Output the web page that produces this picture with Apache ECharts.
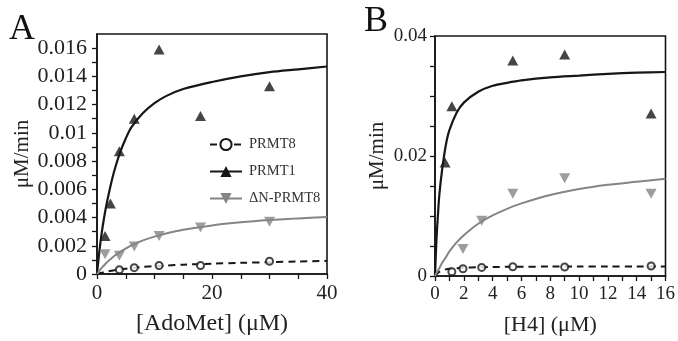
<!DOCTYPE html>
<html><head><meta charset="utf-8">
<script src="https://cdn.jsdelivr.net/npm/echarts@6/dist/echarts.min.js"></script>
<style>html,body{margin:0;padding:0;background:#fff}#c{width:678px;height:341px}</style>
</head><body><div id="c"></div>
<script>
// ---------- Panel A: [AdoMet] ----------
const aPrmt1X = [1.4, 2.33, 3.89, 6.48, 10.8, 18, 30];
const aPrmt1Y = [0.0027, 0.0050, 0.0087, 0.0110, 0.0159, 0.0112, 0.0133];
const aDnX = [1.4, 3.89, 6.48, 10.8, 18, 30];
const aDnY = [0.0014, 0.0013, 0.00195, 0.0027, 0.0033, 0.0037];
const aPrmt8X = [3.89, 6.48, 10.8, 18, 30];
const aPrmt8Y = [0.0003, 0.00045, 0.0006, 0.0006, 0.0009];
// fitted curves
const aFitX = [0, 0.25, 0.5, 0.75, 1, 1.5, 2, 2.5, 3, 4, 5, 6, 8, 10, 12, 15, 20, 25, 30, 35, 40];
const aFitPrmt1 = [0, 0.0010, 0.0019, 0.0027, 0.0034, 0.0046, 0.0056, 0.0065, 0.0073, 0.0086, 0.0096, 0.0104, 0.0114, 0.0121, 0.0126, 0.0131, 0.0136, 0.0140, 0.0143, 0.0145, 0.0147];
const aFitDn = [0, 0.00014, 0.00027, 0.0004, 0.00052, 0.00073, 0.00093, 0.0011, 0.00128, 0.00157, 0.00181, 0.00203, 0.00238, 0.00265, 0.00287, 0.00313, 0.00344, 0.00366, 0.00382, 0.00394, 0.00404];
const aFitPrmt8 = [0, 0.00003, 0.00006, 0.00008, 0.0001, 0.00015, 0.0002, 0.00023, 0.00027, 0.00033, 0.00038, 0.00042, 0.0005, 0.00056, 0.0006, 0.00066, 0.00073, 0.00079, 0.00084, 0.00089, 0.00093];

// ---------- Panel B: [H4] ----------
const bPrmt1X = [0.7, 1.17, 5.4, 9, 15];
const bPrmt1Y = [0.0189, 0.0283, 0.0359, 0.0369, 0.0271];
const bDnX = [1.94, 3.24, 5.4, 9, 15];
const bDnY = [0.0045, 0.0092, 0.0137, 0.0163, 0.0137];
const bPrmt8X = [1.17, 1.94, 3.24, 5.4, 9, 15];
const bPrmt8Y = [0.0007, 0.0012, 0.00143, 0.00155, 0.0015, 0.00166];
const bFitX = [0, 0.1, 0.2, 0.3, 0.5, 0.75, 1, 1.5, 2, 3, 4, 5, 6, 8, 10, 12, 14, 16];
const bFitPrmt1 = [0, 0.0060, 0.0100, 0.0135, 0.0178, 0.0218, 0.0243, 0.0272, 0.0289, 0.0307, 0.0317, 0.0322, 0.0326, 0.0331, 0.0334, 0.0337, 0.0339, 0.0340];
const bFitDn = [0, 0.0005, 0.0009, 0.0013, 0.0022, 0.0031, 0.0041, 0.0056, 0.0068, 0.0087, 0.0101, 0.0112, 0.0121, 0.0135, 0.0145, 0.0152, 0.0157, 0.0162];
const bFitPrmt8 = [0, 0.0003, 0.0005, 0.0007, 0.0009, 0.0011, 0.0012, 0.0013, 0.0014, 0.00145, 0.0015, 0.00153, 0.00155, 0.00157, 0.00158, 0.00159, 0.0016, 0.0016];

const seriesNames = ['PRMT8', 'PRMT1', '\u0394N-PRMT8'];
const yAName = '\u03bcM/min';
const xAName = '[AdoMet] (\u03bcM)';
const xBName = '[H4] (\u03bcM)';

const FONT = 'Liberation Serif';
const BLACK = '#161616';
const GRAY = '#858585';
const DOWN_TRI = 'path://M0,0L10,0L5,9Z';

function pairs(xs, ys) { return xs.map((x, i) => [x, ys[i]]); }

const axisCommon = {
  axisLine: { show: true, onZero: false, lineStyle: { color: BLACK, width: 1.6 } },
  axisTick: { show: true, inside: false, length: 5, lineStyle: { color: BLACK, width: 1.3 } },
  splitLine: { show: false },
  axisLabel: { color: '#222', fontFamily: FONT },
  nameTextStyle: { color: '#222', fontFamily: FONT }
};

const chart = echarts.init(document.getElementById('c'), null, { renderer: 'canvas' });
chart.setOption({
  animation: false,
  backgroundColor: '#fff',
  textStyle: { fontFamily: FONT },
  grid: [
    { left: 97, top: 34, width: 230, height: 243, show: true, borderColor: BLACK, borderWidth: 1.6, backgroundColor: 'transparent' },
    { left: 435, top: 36, width: 232, height: 246, show: true, borderColor: BLACK, borderWidth: 1.6, backgroundColor: 'transparent' }
  ],
  xAxis: [
    Object.assign({}, axisCommon, {
      type: 'value', gridIndex: 0, min: 0, max: 40, interval: 5,
      name: xAName, nameLocation: 'middle', nameGap: 38,
      nameTextStyle: { color: '#222', fontFamily: FONT, fontSize: 24 },
      axisLabel: { color: '#222', fontFamily: FONT, fontSize: 21, margin: 9,
        formatter: v => (Math.round(v) % 20 === 0 ? String(Math.round(v)) : '') }
    }),
    Object.assign({}, axisCommon, {
      type: 'value', gridIndex: 1, min: 0, max: 16, interval: 1,
      name: xBName, nameLocation: 'middle', nameGap: 38,
      nameTextStyle: { color: '#222', fontFamily: FONT, fontSize: 22 },
      axisLabel: { color: '#222', fontFamily: FONT, fontSize: 19, margin: 9,
        formatter: v => (Math.round(v) % 2 === 0 ? String(Math.round(v)) : '') }
    })
  ],
  yAxis: [
    Object.assign({}, axisCommon, {
      type: 'value', gridIndex: 0, min: 0, max: 0.017, interval: 0.001,
      name: yAName, nameLocation: 'middle', nameGap: 64, nameRotate: 90,
      nameTextStyle: { color: '#222', fontFamily: FONT, fontSize: 21 },
      axisLabel: { color: '#222', fontFamily: FONT, fontSize: 22, margin: 10, showMaxLabel: false,
        formatter: v => { const k = Math.round(v * 1000); return (k % 2 === 0 && k <= 16) ? String(+(k / 1000).toFixed(3)) : ''; } }
    }),
    Object.assign({}, axisCommon, {
      type: 'value', gridIndex: 1, min: 0, max: 0.04, interval: 0.005,
      name: yAName, nameLocation: 'middle', nameGap: 47, nameRotate: 90,
      nameTextStyle: { color: '#222', fontFamily: FONT, fontSize: 21 },
      axisLabel: { color: '#222', fontFamily: FONT, fontSize: 19, margin: 8,
        formatter: v => { const k = Math.round(v * 1000); return (k % 20 === 0) ? String(+(k / 1000).toFixed(3)) : ''; } }
    })
  ],
  legend: {
    orient: 'vertical', left: 204, top: 132,
    itemWidth: 32, itemHeight: 14, itemGap: 12,
    textStyle: { fontFamily: FONT, fontSize: 14.5, color: '#333', padding: [0, 0, 0, 2] },
    data: seriesNames
  },
  graphic: [
    { type: 'text', left: 9, top: 12, style: { text: 'A', font: '36px "Liberation Serif"', fill: '#111' } },
    { type: 'text', left: 364, top: 4, style: { text: 'B', font: '36px "Liberation Serif"', fill: '#111' } }
  ],
  series: [
    { name: seriesNames[0], type: 'line', xAxisIndex: 0, yAxisIndex: 0, data: pairs(aFitX, aFitPrmt8), smooth: 0.3,
      symbol: 'emptyCircle', showSymbol: false, symbolSize: 8, itemStyle: { color: BLACK, borderWidth: 1.6 },
      lineStyle: { color: BLACK, width: 2, type: [7, 5] } },
    { name: seriesNames[1], type: 'line', xAxisIndex: 0, yAxisIndex: 0, data: pairs(aFitX, aFitPrmt1), smooth: 0.3,
      symbol: 'triangle', showSymbol: false, symbolSize: 11, itemStyle: { color: BLACK },
      lineStyle: { color: BLACK, width: 2.2 } },
    { name: seriesNames[2], type: 'line', xAxisIndex: 0, yAxisIndex: 0, data: pairs(aFitX, aFitDn), smooth: 0.3,
      symbol: DOWN_TRI, showSymbol: false, symbolSize: 11, itemStyle: { color: GRAY },
      lineStyle: { color: GRAY, width: 2 } },
    { name: seriesNames[0], type: 'scatter', xAxisIndex: 0, yAxisIndex: 0, data: pairs(aPrmt8X, aPrmt8Y),
      symbol: 'emptyCircle', symbolSize: 7, itemStyle: { color: BLACK, borderWidth: 1.6 }, z: 5 },
    { name: seriesNames[1], type: 'scatter', xAxisIndex: 0, yAxisIndex: 0, data: pairs(aPrmt1X, aPrmt1Y),
      symbol: 'triangle', symbolSize: [11, 10], itemStyle: { color: BLACK }, z: 5 },
    { name: seriesNames[2], type: 'scatter', xAxisIndex: 0, yAxisIndex: 0, data: pairs(aDnX, aDnY),
      symbol: DOWN_TRI, symbolSize: [11, 10], itemStyle: { color: GRAY }, z: 5 },
    { name: seriesNames[0], type: 'line', xAxisIndex: 1, yAxisIndex: 1, data: pairs(bFitX, bFitPrmt8), smooth: 0.3,
      showSymbol: false, lineStyle: { color: BLACK, width: 2, type: [7, 5] } },
    { name: seriesNames[1], type: 'line', xAxisIndex: 1, yAxisIndex: 1, data: pairs(bFitX, bFitPrmt1), smooth: 0.3,
      showSymbol: false, lineStyle: { color: BLACK, width: 2.2 } },
    { name: seriesNames[2], type: 'line', xAxisIndex: 1, yAxisIndex: 1, data: pairs(bFitX, bFitDn), smooth: 0.3,
      showSymbol: false, lineStyle: { color: GRAY, width: 2 } },
    { name: seriesNames[0], type: 'scatter', xAxisIndex: 1, yAxisIndex: 1, data: pairs(bPrmt8X, bPrmt8Y),
      symbol: 'emptyCircle', symbolSize: 7, itemStyle: { color: BLACK, borderWidth: 1.6 }, z: 5 },
    { name: seriesNames[1], type: 'scatter', xAxisIndex: 1, yAxisIndex: 1, data: pairs(bPrmt1X, bPrmt1Y),
      symbol: 'triangle', symbolSize: [11, 10], itemStyle: { color: BLACK }, z: 5 },
    { name: seriesNames[2], type: 'scatter', xAxisIndex: 1, yAxisIndex: 1, data: pairs(bDnX, bDnY),
      symbol: DOWN_TRI, symbolSize: [11, 10], itemStyle: { color: GRAY }, z: 5 }
  ]
});
</script>
</body></html>
